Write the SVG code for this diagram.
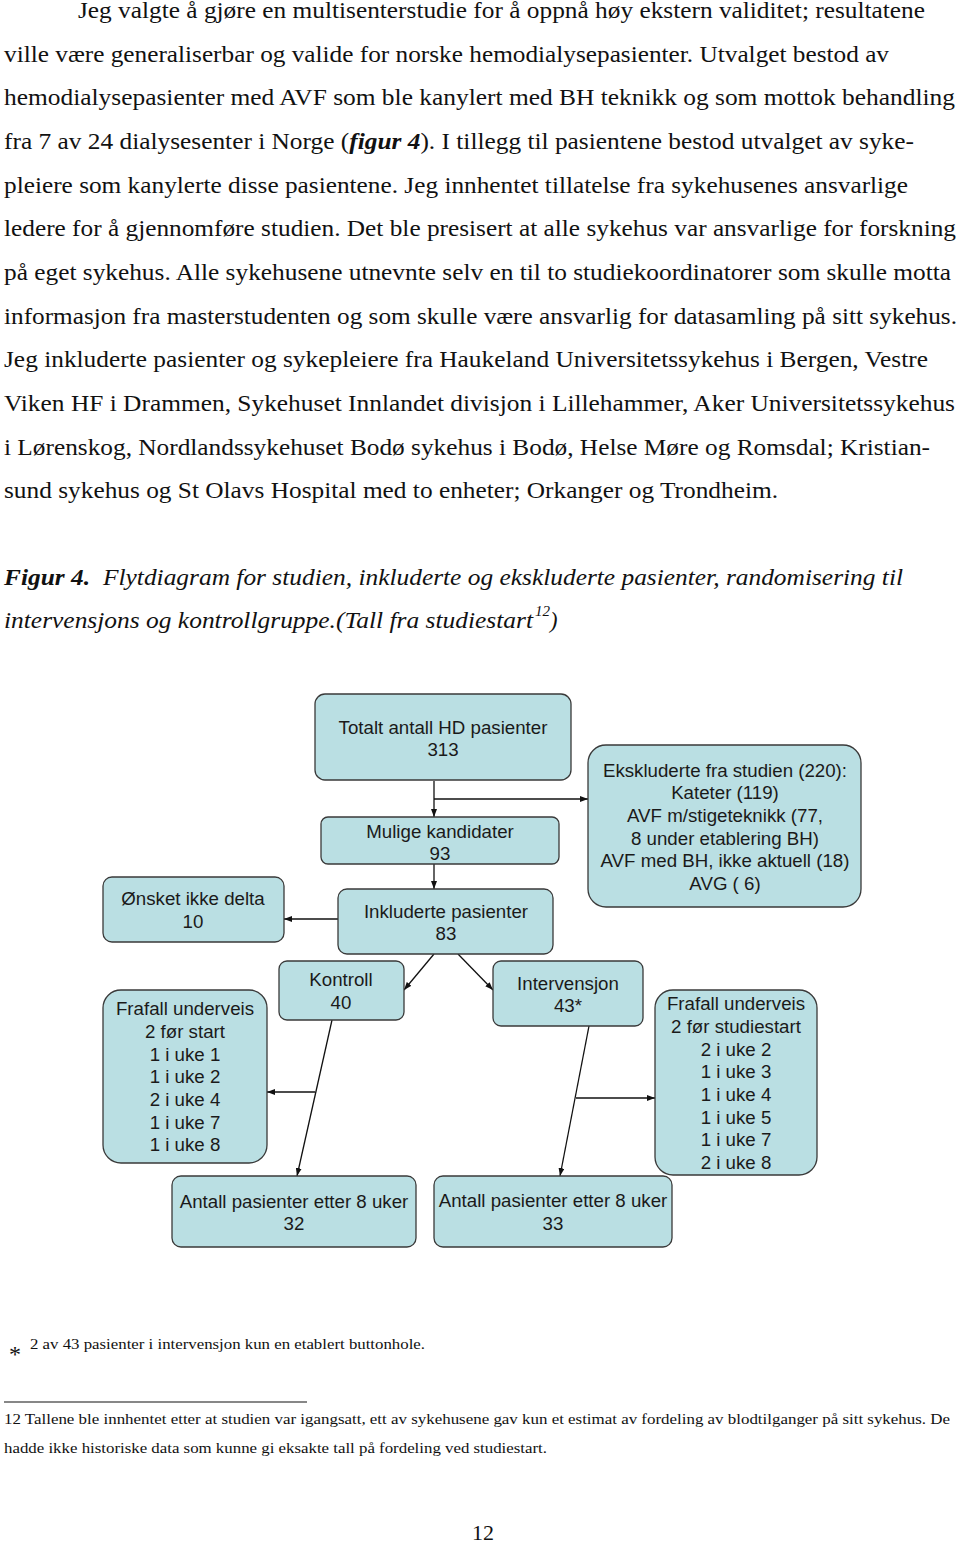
<svg xmlns="http://www.w3.org/2000/svg" width="960" height="1543" viewBox="0 0 960 1543">
<style>
.body{font-family:"Liberation Serif","Times New Roman",serif;font-size:22.5px;fill:#111}
.cap{font-family:"Liberation Serif","Times New Roman",serif;font-size:22.5px;font-style:italic;fill:#111}
.bi{font-weight:bold;font-style:italic}
.fn{font-family:"Liberation Serif","Times New Roman",serif;font-size:15px;fill:#111}
.box{fill:#badfe3;stroke:#3a3a3a;stroke-width:1.3}
.bt{font-family:"Liberation Sans",Arial,sans-serif;font-size:18.7px;fill:#1a1a1a;text-anchor:middle}
.con{stroke:#111;stroke-width:1.3;fill:none}
</style>
<defs>
<marker id="arr" markerWidth="8" markerHeight="6" refX="8" refY="3" orient="auto" markerUnits="userSpaceOnUse">
<path d="M0,0 L8,3 L0,6 z" fill="#111"/>
</marker>
</defs>
<rect width="960" height="1543" fill="#fff"/>

<g id="paragraph">
<text class="body" x="78" y="18" textLength="847" lengthAdjust="spacingAndGlyphs">Jeg valgte å gjøre en multisenterstudie for å oppnå høy ekstern validitet; resultatene</text>
<text class="body" x="4" y="62" textLength="885" lengthAdjust="spacingAndGlyphs">ville være generaliserbar og valide for norske hemodialysepasienter. Utvalget bestod av</text>
<text class="body" x="4" y="105" textLength="951" lengthAdjust="spacingAndGlyphs">hemodialysepasienter med AVF som ble kanylert med BH teknikk og som mottok behandling</text>
<text class="body" x="4" y="149" textLength="910" lengthAdjust="spacingAndGlyphs">fra 7 av 24 dialysesenter i Norge (<tspan class="bi">figur 4</tspan>). I tillegg til pasientene bestod utvalget av syke-</text>
<text class="body" x="4" y="193" textLength="904" lengthAdjust="spacingAndGlyphs">pleiere som kanylerte disse pasientene. Jeg innhentet tillatelse fra sykehusenes ansvarlige</text>
<text class="body" x="4" y="236" textLength="952" lengthAdjust="spacingAndGlyphs">ledere for å gjennomføre studien. Det ble presisert at alle sykehus var ansvarlige for forskning</text>
<text class="body" x="4" y="280" textLength="947" lengthAdjust="spacingAndGlyphs">på eget sykehus. Alle sykehusene utnevnte selv en til to studiekoordinatorer som skulle motta</text>
<text class="body" x="4" y="324" textLength="953" lengthAdjust="spacingAndGlyphs">informasjon fra masterstudenten og som skulle være ansvarlig for datasamling på sitt sykehus.</text>
<text class="body" x="4" y="367" textLength="924" lengthAdjust="spacingAndGlyphs">Jeg inkluderte pasienter og sykepleiere fra Haukeland Universitetssykehus i Bergen, Vestre</text>
<text class="body" x="4" y="411" textLength="951" lengthAdjust="spacingAndGlyphs">Viken HF i Drammen, Sykehuset Innlandet divisjon i Lillehammer, Aker Universitetssykehus</text>
<text class="body" x="4" y="455" textLength="926" lengthAdjust="spacingAndGlyphs">i Lørenskog, Nordlandssykehuset Bodø sykehus i Bodø, Helse Møre og Romsdal; Kristian-</text>
<text class="body" x="4" y="498" textLength="774" lengthAdjust="spacingAndGlyphs">sund sykehus og St Olavs Hospital med to enheter; Orkanger og Trondheim.</text>
</g>

<g id="caption">
<text class="cap bi" x="4" y="585" textLength="86" lengthAdjust="spacingAndGlyphs">Figur 4.</text>
<text class="cap" x="103" y="585" textLength="800" lengthAdjust="spacingAndGlyphs">Flytdiagram for studien, inkluderte og ekskluderte pasienter, randomisering til</text>
<text class="cap" x="4" y="628" textLength="529" lengthAdjust="spacingAndGlyphs">intervensjons og kontrollgruppe.(Tall fra studiestart</text>
<text class="cap" x="535" y="616" style="font-size:15px">12</text>
<text class="cap" x="550" y="628">)</text>
</g>

<g id="connectors">
<line class="con" x1="434" y1="781" x2="434" y2="817" marker-end="url(#arr)"/>
<line class="con" x1="434" y1="799" x2="588" y2="799" marker-end="url(#arr)"/>
<line class="con" x1="434" y1="864" x2="434" y2="889" marker-end="url(#arr)"/>
<line class="con" x1="338" y1="919" x2="284" y2="919" marker-end="url(#arr)"/>
<line class="con" x1="434" y1="954" x2="404" y2="990" marker-end="url(#arr)"/>
<line class="con" x1="458" y1="954" x2="493" y2="990" marker-end="url(#arr)"/>
<line class="con" x1="332" y1="1020" x2="297" y2="1176" marker-end="url(#arr)"/>
<line class="con" x1="315" y1="1092" x2="267" y2="1092" marker-end="url(#arr)"/>
<line class="con" x1="589" y1="1026" x2="560" y2="1176" marker-end="url(#arr)"/>
<line class="con" x1="576" y1="1098" x2="655" y2="1098" marker-end="url(#arr)"/>
</g>

<g id="totalt">
<rect class="box" x="315" y="694" width="256" height="86" rx="10"/>
<text class="bt" x="443" y="734">Totalt antall HD pasienter</text>
<text class="bt" x="443" y="756">313</text>
</g>
<g id="ekskluderte">
<rect class="box" x="588" y="745" width="273" height="162" rx="18"/>
<text class="bt" x="725" y="777">Ekskluderte fra studien (220):</text>
<text class="bt" x="725" y="799">Kateter (119)</text>
<text class="bt" x="725" y="822">AVF m/stigeteknikk (77,</text>
<text class="bt" x="725" y="845">8 under etablering BH)</text>
<text class="bt" x="725" y="867">AVF med BH, ikke aktuell (18)</text>
<text class="bt" x="725" y="890">AVG ( 6)</text>
</g>
<g id="mulige">
<rect class="box" x="321" y="817" width="238" height="47" rx="7"/>
<text class="bt" x="440" y="838">Mulige kandidater</text>
<text class="bt" x="440" y="860">93</text>
</g>
<g id="inkluderte">
<rect class="box" x="338" y="889" width="215" height="65" rx="9"/>
<text class="bt" x="446" y="918">Inkluderte pasienter</text>
<text class="bt" x="446" y="940">83</text>
</g>
<g id="onsket">
<rect class="box" x="103" y="877" width="181" height="65" rx="9"/>
<text class="bt" x="193" y="905">Ønsket ikke delta</text>
<text class="bt" x="193" y="928">10</text>
</g>
<g id="kontroll">
<rect class="box" x="279" y="961" width="125" height="59" rx="8"/>
<text class="bt" x="341" y="986">Kontroll</text>
<text class="bt" x="341" y="1009">40</text>
</g>
<g id="intervensjon">
<rect class="box" x="493" y="961" width="150" height="65" rx="8"/>
<text class="bt" x="568" y="990">Intervensjon</text>
<text class="bt" x="568" y="1012">43*</text>
</g>
<g id="frafall-kontroll">
<rect class="box" x="103" y="990" width="164" height="173" rx="18"/>
<text class="bt" x="185" y="1015">Frafall underveis</text>
<text class="bt" x="185" y="1038">2 før start</text>
<text class="bt" x="185" y="1061">1 i uke 1</text>
<text class="bt" x="185" y="1083">1 i uke 2</text>
<text class="bt" x="185" y="1106">2 i uke 4</text>
<text class="bt" x="185" y="1129">1 i uke 7</text>
<text class="bt" x="185" y="1151">1 i uke 8</text>
</g>
<g id="frafall-intervensjon">
<rect class="box" x="655" y="990" width="162" height="185" rx="18"/>
<text class="bt" x="736" y="1010">Frafall underveis</text>
<text class="bt" x="736" y="1033">2 før studiestart</text>
<text class="bt" x="736" y="1056">2 i uke 2</text>
<text class="bt" x="736" y="1078">1 i uke 3</text>
<text class="bt" x="736" y="1101">1 i uke 4</text>
<text class="bt" x="736" y="1124">1 i uke 5</text>
<text class="bt" x="736" y="1146">1 i uke 7</text>
<text class="bt" x="736" y="1169">2 i uke 8</text>
</g>
<g id="antall-kontroll">
<rect class="box" x="172" y="1176" width="244" height="71" rx="9"/>
<text class="bt" x="294" y="1208">Antall pasienter etter 8 uker</text>
<text class="bt" x="294" y="1230">32</text>
</g>
<g id="antall-intervensjon">
<rect class="box" x="434" y="1176" width="238" height="71" rx="9"/>
<text class="bt" x="553" y="1207">Antall pasienter etter 8 uker</text>
<text class="bt" x="553" y="1230">33</text>
</g>

<g id="footnotes">
<text class="body" x="9" y="1362" style="font-size:24px">*</text>
<text class="fn" x="30" y="1349" textLength="395" lengthAdjust="spacingAndGlyphs">2 av 43 pasienter i intervensjon kun en etablert buttonhole.</text>
<line x1="4" y1="1402" x2="307" y2="1402" stroke="#111" stroke-width="1.2"/>
<text class="fn" x="4" y="1424" textLength="946" lengthAdjust="spacingAndGlyphs">12 Tallene ble innhentet etter at studien var igangsatt, ett av sykehusene gav kun et estimat av fordeling av blodtilganger på sitt sykehus. De</text>
<text class="fn" x="4" y="1453" textLength="543" lengthAdjust="spacingAndGlyphs">hadde ikke historiske data som kunne gi eksakte tall på fordeling ved studiestart.</text>
<text class="body" x="472" y="1540" style="font-size:22px">12</text>
</g>
</svg>
